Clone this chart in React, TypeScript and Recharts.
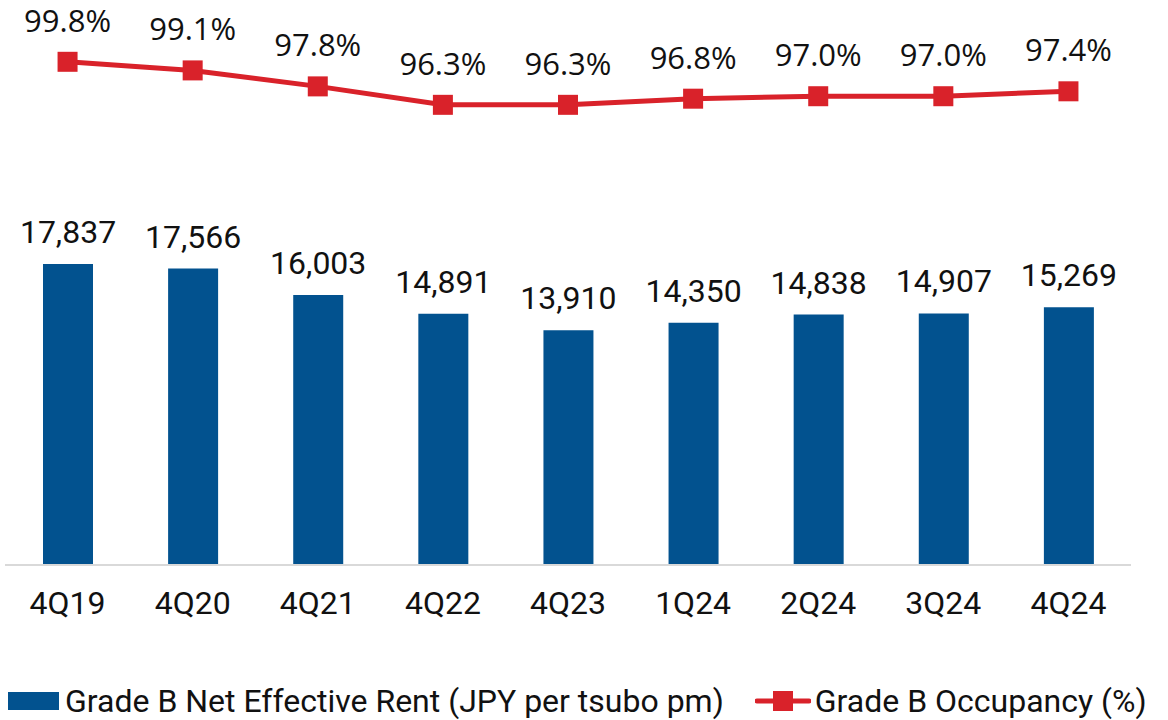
import React from 'react';
import { ComposedChart, Bar, Line, XAxis, YAxis, LabelList } from 'recharts';

const quarters = ['4Q19', '4Q20', '4Q21', '4Q22', '4Q23', '1Q24', '2Q24', '3Q24', '4Q24'];
const rent = [17837, 17566, 16003, 14891, 13910, 14350, 14838, 14907, 15269];
const occupancy = [99.8, 99.1, 97.8, 96.3, 96.3, 96.8, 97.0, 97.0, 97.4];

const BLUE = '#02528F';
const RED = '#D9222A';
const ROBOTO = 'Roboto, sans-serif';

const data = quarters.map((q, i) => ({ q, rent: rent[i], occ: occupancy[i] }));

const QuarterTick = (props: any) => {
  const { x, y, payload } = props;
  return (
    <text x={x} y={y + 49} textAnchor="middle" fontFamily={ROBOTO} fontSize={32} fill="#111">
      {payload.value}
    </text>
  );
};

const SquareDot = (props: any) => {
  const { cx, cy, index } = props;
  return <rect key={`sq-${index}`} x={cx - 10} y={cy - 10} width={20} height={20} fill={RED} />;
};

export default function App() {
  return (
    <div style={{ position: 'absolute', left: 0, top: 0, width: 1168, height: 720, background: '#fff' }}>
      <ComposedChart width={1168} height={640} data={data} margin={{ top: 20, right: 37, left: 5, bottom: 0 }}>
        <XAxis
          dataKey="q"
          height={75}
          tickLine={false}
          tickSize={0}
          tickMargin={0}
          axisLine={{ stroke: '#D9D9D9', strokeWidth: 2 }}
          tick={<QuarterTick />}
          interval={0}
        />
        <YAxis yAxisId="left" hide domain={[0, 32296]} />
        <YAxis yAxisId="right" orientation="right" hide domain={[58.87, 103.2]} />
        <Bar yAxisId="left" dataKey="rent" fill={BLUE} barSize={50} isAnimationActive={false}>
          <LabelList
            dataKey="rent"
            position="top"
            offset={21}
            fontFamily={ROBOTO}
            fontSize={32}
            fill="#111"
            formatter={(v: any) => Number(v).toLocaleString('en-US')}
          />
        </Bar>
        <Line
          yAxisId="right"
          dataKey="occ"
          stroke={RED}
          strokeWidth={5}
          dot={SquareDot}
          activeDot={false}
          isAnimationActive={false}
        >
          <LabelList
            dataKey="occ"
            position="top"
            offset={30}
            fontFamily="'Open Sans', sans-serif"
            fontSize={31}
            fill="#111"
            formatter={(v: any) => Number(v).toFixed(1) + '%'}
          />
        </Line>
      </ComposedChart>
      <div
        style={{
          position: 'absolute',
          top: 682,
          left: 0,
          display: 'flex',
          alignItems: 'center',
          fontFamily: ROBOTO,
          fontSize: 32,
          color: '#111',
          whiteSpace: 'nowrap',
        }}
      >
        <div style={{ width: 51, height: 18, background: BLUE, marginLeft: 8, marginRight: 6 }} />
        <span>Grade B Net Effective Rent (JPY per tsubo pm)</span>
        <svg width={56} height={22} style={{ marginLeft: 31, marginRight: 4 }}>
          <line x1={2} y1={11} x2={54} y2={11} stroke={RED} strokeWidth={5} strokeLinecap="round" />
          <rect x={18} y={1} width={20} height={20} fill={RED} />
        </svg>
        <span>Grade B Occupancy (%)</span>
      </div>
    </div>
  );
}
